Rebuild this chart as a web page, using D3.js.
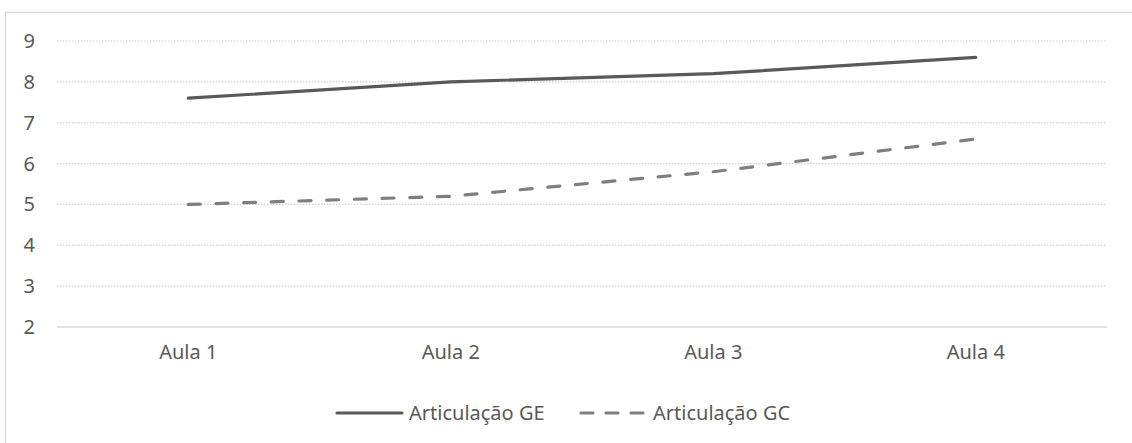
<!DOCTYPE html>
<html><head><meta charset="utf-8">
<script src="https://cdn.jsdelivr.net/npm/d3@7"></script>
<style>body{margin:0;background:#fff}svg{display:block}text{font-family:"Noto Sans",sans-serif;fill:#595959}</style>
</head><body><svg id="c" width="1132" height="443"></svg>
<script>
const categories = ["Aula 1","Aula 2","Aula 3","Aula 4"];
const seriesGE = [7.6, 8.0, 8.2, 8.6];
const seriesGC = [5.0, 5.2, 5.8, 6.6];
const seriesNames = ["Articulação GE","Articulação GC"];
const yTicks = [2,3,4,5,6,7,8,9];

const svg = d3.select("#c");
svg.append("rect").attr("x",5.5).attr("y",12.5).attr("width",1200).attr("height",500)
  .attr("fill","none").attr("stroke","#d9d9d9").attr("stroke-width",1.3);

const x = d3.scaleBand().domain(categories).range([57,1107]);
const y = d3.scaleLinear().domain([2,9]).range([327,41]);

// gridlines
svg.append("g").selectAll("line").data(yTicks.filter(t=>t>2)).join("line")
  .attr("x1",57).attr("x2",1107).attr("y1",d=>y(d)).attr("y2",d=>y(d))
  .attr("stroke","#d0d0d0").attr("stroke-width",1.2).attr("stroke-dasharray","1.5,1.5");

// axis line
svg.append("line").attr("x1",57).attr("x2",1107).attr("y1",y(2)).attr("y2",y(2))
  .attr("stroke","#d9d9d9").attr("stroke-width",1.5);

// y labels
svg.append("g").selectAll("text").data(yTicks).join("text")
  .attr("x",35).attr("y",d=>y(d)).attr("dy","0.35em").attr("text-anchor","end")
  .attr("font-size",20).text(d=>d);

// x labels
svg.append("g").selectAll("text").data(categories).join("text")
  .attr("x",d=>x(d)+x.bandwidth()/2).attr("y",y(2)+32).attr("text-anchor","middle")
  .attr("font-size",20).text(d=>d);

const line = d3.line().x((d,i)=>x(categories[i])+x.bandwidth()/2).y(d=>y(d));
svg.append("path").datum(seriesGE).attr("d",line).attr("fill","none")
  .attr("stroke","#595959").attr("stroke-width",3.2).attr("stroke-linecap","round");
svg.append("path").datum(seriesGC).attr("d",line).attr("fill","none")
  .attr("stroke","#7f7f7f").attr("stroke-width",3.2).attr("stroke-linecap","round")
  .attr("stroke-dasharray","12,15.7");

// legend
const ly = 413;
svg.append("line").attr("x1",337).attr("x2",402).attr("y1",ly).attr("y2",ly)
  .attr("stroke","#595959").attr("stroke-width",3.2).attr("stroke-linecap","round");
svg.append("text").attr("x",409).attr("y",ly).attr("dy","0.35em").attr("font-size",20).text(seriesNames[0]);
svg.append("line").attr("x1",581).attr("x2",646).attr("y1",ly).attr("y2",ly)
  .attr("stroke","#7f7f7f").attr("stroke-width",3.2).attr("stroke-linecap","round")
  .attr("stroke-dasharray","12,13");
svg.append("text").attr("x",653).attr("y",ly).attr("dy","0.35em").attr("font-size",20).text(seriesNames[1]);
</script></body></html>
